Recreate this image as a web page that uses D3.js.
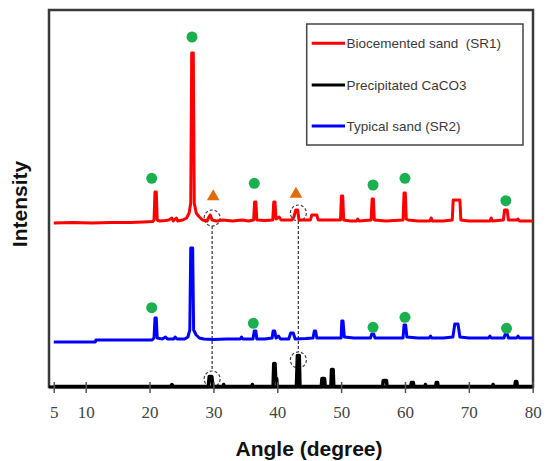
<!DOCTYPE html>
<html lang="en">
<head>
    <meta charset="UTF-8">
    <title>XRD patterns</title>
    <script src="https://d3js.org/d3.v7.min.js"></script>
    <style>
        body { margin: 0; background: #fff; }
    </style>
</head>
<body>
    <div id="plot"></div>

    <script>
        "use strict";

        // [angle (deg), intensity above the series baseline]
        let biocementedSand = [
            [5, 0], [8, 0.5], [11, 0], [14, 0.5], [17, 0.5], [19, 1], [20.5, 1.5],
            [20.7, 3], [20.85, 31], [21.05, 31], [21.2, 3], [21.6, 2], [22.5, 2.5], [23.0, 3],
            [23.5, 5], [23.7, 2], [24.2, 5], [24.4, 2], [25.2, 3], [25.8, 5], [26.2, 10],
            [26.45, 20], [26.6, 170], [26.85, 170], [27.0, 20], [27.3, 10], [27.8, 6], [28.3, 3],
            [29.0, 2], [29.3, 6], [29.5, 8], [29.8, 3], [30.5, 2], [31.5, 3], [33, 2], [34.5, 3],
            [35.5, 2], [36.3, 3], [36.45, 21], [36.65, 21], [36.8, 3], [38, 2.5], [39.3, 3],
            [39.45, 21], [39.65, 21], [39.8, 4], [40.3, 6], [40.6, 3], [41.5, 3], [42.3, 3],
            [42.6, 6], [42.9, 13], [43.2, 13], [43.4, 3], [44.5, 3], [45.2, 3], [45.4, 8],
            [46.2, 8], [46.4, 3], [47.5, 3], [48.5, 3], [49.9, 3], [50.05, 27], [50.25, 27],
            [50.4, 3], [51.5, 2], [52.4, 2], [52.6, 4], [52.8, 2], [54.7, 3], [54.85, 24],
            [55.05, 24], [55.2, 3], [57, 2], [59.7, 3], [59.85, 30], [60.05, 30], [60.2, 4],
            [60.5, 3], [62, 2], [63.9, 2], [64.1, 5], [64.3, 2], [66, 2], [67.4, 3], [67.55, 23],
            [68.6, 23], [68.75, 3], [70, 2], [73.3, 2], [73.5, 5], [73.7, 2], [75.4, 3],
            [75.6, 13], [76.0, 13], [76.2, 3], [77.5, 3], [77.7, 4], [77.9, 2], [80, 2]
        ];
        let typicalSand = [
            [5, 0], [11.5, 0], [11.6, 2], [19, 2], [20.4, 2], [20.7, 4], [20.85, 24], [21.05, 24],
            [21.2, 4], [22, 3], [22.5, 5], [22.8, 3], [23.8, 3], [24.0, 5], [24.3, 3], [25.5, 3],
            [26.0, 5], [26.3, 12], [26.45, 94], [26.75, 94], [26.9, 12], [27.3, 7], [27.8, 4],
            [28.5, 3], [30, 2.5], [32, 3], [34.2, 3], [34.4, 5], [34.6, 3], [36.2, 3], [36.4, 11],
            [36.65, 11], [36.8, 3], [38, 3], [39.2, 4], [39.35, 11], [39.6, 11], [39.8, 4],
            [40.2, 6], [40.5, 3], [41.8, 3], [42.1, 9], [42.5, 9], [42.8, 3], [44.5, 3.5],
            [45.6, 4], [45.8, 11], [46.0, 11], [46.2, 4], [47, 4], [48.5, 4], [50.0, 4],
            [50.1, 21], [50.3, 21], [50.5, 5], [52, 4], [54.6, 4], [54.8, 8], [55.1, 8], [55.3, 4],
            [57, 4], [59.7, 4], [59.85, 17], [60.1, 17], [60.3, 5], [62, 4], [63.8, 4], [64.0, 6],
            [64.2, 4], [66, 4], [67.5, 5], [67.8, 18], [68.3, 18], [68.6, 5], [70, 4], [73.1, 4],
            [73.3, 6], [73.5, 4], [75.5, 4], [75.7, 8], [76.0, 8], [76.2, 4], [77.5, 4],
            [77.7, 6], [77.9, 4], [80, 4]
        ];
        let precipitatedCaCO3 = [
            [5, 0], [23.3, 0], [23.5, 2], [23.7, 0], [29.2, 0], [29.35, 10], [29.75, 10],
            [29.9, 0], [31.5, 0], [31.6, 2], [31.7, 0], [36, 0], [36.1, 2], [36.2, 0],
            [39.35, 0], [39.45, 23], [39.65, 23], [39.75, 8], [39.9, 8], [40.0, 0], [43.0, 0],
            [43.15, 31], [43.45, 31], [43.55, 0], [46.9, 0], [47.0, 8], [47.4, 8], [47.5, 0],
            [48.4, 0], [48.5, 17], [48.75, 17], [48.85, 0], [56.5, 0], [56.6, 6], [57.1, 6],
            [57.2, 0], [60.9, 0], [61.0, 4], [61.3, 4], [61.4, 0], [63.1, 0], [63.2, 2],
            [63.3, 0], [64.8, 0], [64.9, 4], [65.1, 4], [65.2, 0], [73.7, 0], [73.8, 2],
            [73.9, 0], [77.2, 0], [77.3, 5], [77.5, 5], [77.6, 0], [80, 0]
        ];

        let seriesNames = ['Biocemented sand  (SR1)', 'Precipitated CaCO3', 'Typical sand (SR2)'];
        let seriesOffsets = [164, 0.5, 45];

        // quartz markers [angle, level], calcite markers [angle, level]
        let quartzMarks = [
            [20.34, 208.7], [26.65, 350], [36.4, 203.7], [55.0, 202], [60.0, 208.7], [75.8, 186.3],
            [20.34, 79.3], [36.25, 63.7], [55.0, 59.7], [60.0, 69.7], [75.9, 58.7]
        ];
        let calciteMarks = [[29.97, 190.3], [42.93, 193]];
        // dashed guides: angle, upper circle level, lower circle level
        let guideAngles = [29.8, 43.3];
        let guideUpper = [169, 174];
        let guideLower = [8, 27];

        let xTicks = [5, 10, 20, 30, 40, 50, 60, 70, 80];
    </script>

    <script>
        let svgWidth = 552;
        let svgHeight = 461;
        let plotLeft = 49, plotRight = 533, plotTop = 10, plotBottom = 387;

        let colours = ['#ff0000', '#000000', '#0000ff'];
        let seriesData = [biocementedSand, precipitatedCaCO3, typicalSand];

        let x = d3.scaleLinear().domain([4.3, 80]).range([49.3, 532.7]);
        let y = d3.scaleLinear().domain([0, 377]).range([plotBottom, plotTop]);

        let svg = d3.select('#plot')
                    .append('svg')
                    .attr('width', svgWidth)
                    .attr('height', svgHeight)
                    .style('font-family', '"Liberation Sans", Arial, sans-serif');

        // frame
        svg.append('rect')
            .attr('x', plotLeft)
            .attr('y', plotTop)
            .attr('width', plotRight - plotLeft)
            .attr('height', plotBottom - plotTop)
            .attr('fill', 'none')
            .attr('stroke', '#3a3a3a')
            .attr('stroke-width', 2.5);

        // dashed guides and circles
        guideAngles.forEach((a, i) => {
            let r = 8;
            svg.append('line')
                .attr('x1', x(a)).attr('x2', x(a))
                .attr('y1', y(guideUpper[i]) + r)
                .attr('y2', y(guideLower[i]) - r)
                .attr('stroke', '#333')
                .attr('stroke-width', 1.2)
                .attr('stroke-dasharray', '3,2');
            [guideUpper[i], guideLower[i]].forEach(lv => {
                svg.append('circle')
                    .attr('cx', x(a)).attr('cy', y(lv))
                    .attr('r', r)
                    .attr('fill', 'none')
                    .attr('stroke', '#444')
                    .attr('stroke-width', 1.2)
                    .attr('stroke-dasharray', '3,2');
            });
        });

        // patterns
        seriesData.forEach((data, i) => {
            let line = d3.line()
                        .x(d => x(d[0]))
                        .y(d => y(d[1] + seriesOffsets[i]));
            svg.append('path')
                .datum(data)
                .attr('d', line)
                .attr('fill', 'none')
                .attr('stroke', colours[i])
                .attr('stroke-width', i == 1 ? 3.5 : 3)
                .attr('stroke-linejoin', 'round');
        });

        // bottom axis
        let xAxis = d3.axisBottom(x)
                        .tickValues(xTicks)
                        .tickFormat(d3.format('d'))
                        .tickSize(6);
        let axisG = svg.append('g')
                        .attr('transform', 'translate(0,' + plotBottom + ')')
                        .call(xAxis);
        axisG.select('.domain')
            .attr('d', 'M' + plotLeft + ',0H' + plotRight)
            .attr('stroke', '#000')
            .attr('stroke-width', 3);
        axisG.selectAll('.tick line')
            .attr('y1', -5)
            .attr('stroke', '#555')
            .attr('stroke-width', 1.5);
        axisG.selectAll('.tick text')
            .attr('y', 19)
            .style('font-family', '"Liberation Serif", "DejaVu Serif", serif')
            .style('font-size', '17px')
            .attr('fill', '#444');

        // markers
        svg.selectAll('.quartz')
            .data(quartzMarks)
            .enter()
            .append('circle')
            .attr('class', 'quartz')
            .attr('cx', d => x(d[0]))
            .attr('cy', d => y(d[1]))
            .attr('r', 5.5)
            .attr('fill', '#1caf50');

        svg.selectAll('.calcite')
            .data(calciteMarks)
            .enter()
            .append('path')
            .attr('class', 'calcite')
            .attr('d', d3.symbol().type(d3.symbolTriangle).size(70))
            .attr('transform', d => 'translate(' + x(d[0]) + ',' + y(d[1]) + ')')
            .attr('fill', '#e36c0a');

        // legend
        let legend = svg.append('g');
        legend.append('rect')
            .attr('x', 306.7).attr('y', 24)
            .attr('width', 216.3).attr('height', 121)
            .attr('fill', '#fff')
            .attr('stroke', '#444')
            .attr('stroke-width', 1.5);
        let legendY = [43.3, 85, 126];
        seriesNames.forEach((name, i) => {
            legend.append('line')
                .attr('x1', 311.7).attr('x2', 345)
                .attr('y1', legendY[i]).attr('y2', legendY[i])
                .attr('stroke', colours[i])
                .attr('stroke-width', 3);
            legend.append('text')
                .attr('x', 346.5)
                .attr('y', legendY[i])
                .attr('dy', '0.35em')
                .attr('fill', '#3a3a3a')
                .style('font-size', '13.5px')
                .style('white-space', 'pre')
                .text(name);
        });

        // axis titles
        svg.append('text')
            .attr('x', 309)
            .attr('y', 456)
            .attr('text-anchor', 'middle')
            .style('font-size', '21px')
            .style('font-weight', 'bold')
            .attr('fill', '#111')
            .text('Angle (degree)');

        svg.append('text')
            .attr('transform', 'translate(27,204) rotate(-90)')
            .attr('text-anchor', 'middle')
            .style('font-size', '21px')
            .style('font-weight', 'bold')
            .attr('fill', '#111')
            .text('Intensity');
    </script>
</body>
</html>
